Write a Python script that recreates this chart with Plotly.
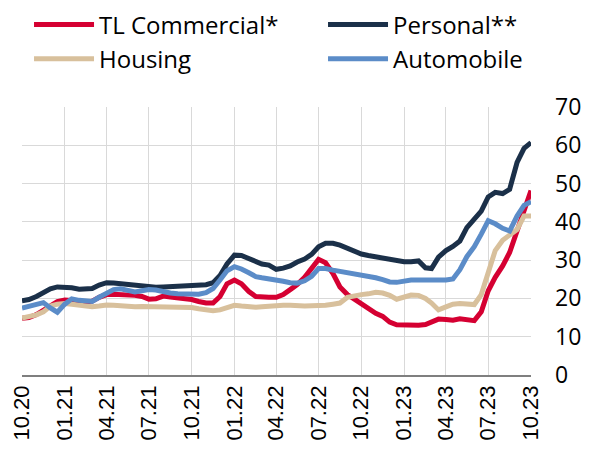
import plotly.graph_objects as go

# semi-monthly observation dates, Oct 2020 .. Oct 2023
dates = []
for y in range(2020, 2024):
    for m in range(1, 13):
        for d in (1, 16):
            s = f"{y}-{m:02d}-{d:02d}"
            if "2020-10-01" <= s <= "2023-10-01":
                dates.append(s)

tl_commercial = [14.8, 15.0, 15.8, 17.0, 18.3, 19.2, 19.6, 19.6, 19.3, 19.1, 19.3, 20.3,
                 21.0, 21.1, 21.1, 21.0, 20.8, 20.5, 19.8, 19.9, 20.6, 20.4, 20.2, 20.0,
                 19.7, 19.2, 18.8, 18.8, 20.5, 23.8, 24.8, 23.8, 21.8, 20.5, 20.3, 20.3,
                 20.3, 21.0, 22.3, 23.6, 25.5, 28.0, 30.2, 29.3, 26.5, 23.0, 21.0, 19.8,
                 18.5, 17.3, 16.1, 15.3, 13.8, 13.1, 13.0, 12.8, 13.0, 13.2, 14.0, 14.6,
                 14.5, 14.3, 14.7, 14.4, 14.2, 16.5, 22.0, 25.5, 28.5, 32.0, 37.5, 42.5,
                 48.2]

personal = [19.4, 19.7, 20.5, 21.5, 22.5, 23.0, 23.0, 22.8, 22.4, 22.5, 22.6, 23.5,
            24.1, 24.0, 23.8, 23.5, 23.3, 23.2, 23.0, 22.9, 23.0, 23.1, 23.3, 23.3,
            23.4, 23.5, 23.6, 24.1, 26.0, 29.0, 31.3, 31.2, 30.3, 29.4, 29.0, 28.7,
            27.6, 27.9, 28.5, 29.5, 30.3, 31.5, 33.5, 34.4, 34.4, 33.9, 33.0, 32.3,
            31.6, 31.2, 30.8, 30.5, 30.3, 29.8, 29.6, 29.6, 29.8, 28.0, 27.8, 30.8,
            32.5, 33.6, 35.0, 38.5, 40.6, 42.8, 46.5, 47.7, 47.4, 48.5, 55.5, 59.2,
            60.7]

housing = [14.9, 15.2, 15.7, 16.5, 18.0, 18.5, 18.7, 18.5, 18.2, 18.0, 17.8, 18.0,
           18.3, 18.2, 18.0, 17.9, 17.8, 17.9, 17.9, 17.9, 17.9, 17.9, 17.9, 17.8,
           17.6, 17.3, 17.0, 16.8, 17.0, 17.6, 18.2, 18.0, 17.8, 17.7, 17.8, 18.0,
           18.1, 18.2, 18.2, 18.0, 18.0, 18.1, 18.1, 18.2, 18.5, 18.8, 20.3, 20.8,
           21.0, 21.2, 21.6, 21.4, 20.8, 19.8, 20.3, 20.9, 20.8, 20.0, 18.8, 17.0,
           17.8, 18.5, 18.7, 18.5, 18.4, 21.0, 27.0, 32.5, 35.2, 36.5, 38.0, 41.5,
           41.5]

automobile = [17.5, 17.9, 18.3, 18.9, 17.5, 16.4, 18.5, 19.9, 19.5, 19.3, 19.2, 20.3,
              21.5, 22.3, 22.5, 22.0, 21.7, 22.0, 22.3, 22.2, 21.7, 21.4, 21.2, 21.1,
              21.1, 21.1, 21.5, 22.6, 24.8, 27.2, 28.3, 27.7, 26.7, 25.7, 25.4, 25.0,
              24.8, 24.5, 24.1, 24.0, 24.6, 25.8, 27.8, 27.8, 27.4, 27.1, 26.8, 26.5,
              26.2, 25.8, 25.4, 24.9, 24.3, 24.2, 24.6, 24.8, 24.8, 24.8, 24.7, 24.7,
              24.8, 25.1, 27.5, 30.9, 33.5, 36.8, 40.3, 39.5, 38.3, 37.6, 41.5, 44.3,
              45.3]

tick_vals = ["2020-10-01", "2021-01-01", "2021-04-01", "2021-07-01", "2021-10-01",
             "2022-01-01", "2022-04-01", "2022-07-01", "2022-10-01", "2023-01-01",
             "2023-04-01", "2023-07-01", "2023-10-01"]
tick_text = ["10.20", "01.21", "04.21", "07.21", "10.21", "01.22", "04.22", "07.22",
             "10.22", "01.23", "04.23", "07.23", "10.23"]

series = [
    ("TL Commercial*", tl_commercial, "#D50032", "legend"),
    ("Personal**", personal, "#1B3049", "legend2"),
    ("Housing", housing, "#D8C09C", "legend"),
    ("Automobile", automobile, "#5B8CC8", "legend2"),
]

fig = go.Figure()
for name, vals, color, lg in series:
    fig.add_trace(go.Scatter(x=dates, y=vals, name=name, mode="lines", legend=lg,
                             line=dict(color=color, width=5)))

legend_common = dict(orientation="v", yref="paper", xref="paper", xanchor="left",
                     yanchor="top", itemwidth=60, tracegroupgap=0,
                     font=dict(family="Open Sans", size=24, color="black"),
                     bgcolor="rgba(0,0,0,0)")

# page body has an 8px margin, so the figure is 581x450 offset by (8, 8)
fig.update_layout(
    width=581, height=450,
    margin=dict(l=14, r=58, t=99, b=83, autoexpand=False),
    paper_bgcolor="white", plot_bgcolor="white",
    font=dict(family="Open Sans", size=22, color="black"),
    showlegend=True,
    legend=dict(x=0.0138, y=1.39, **legend_common),
    legend2=dict(x=0.5914, y=1.39, **legend_common),
    xaxis=dict(type="date", range=["2020-10-01", "2023-10-01"], tickvals=tick_vals,
               ticktext=tick_text, tickangle=-90,
               tickfont=dict(family="Liberation Sans", size=22),
               showgrid=True, gridcolor="#D9D9D9", gridwidth=1,
               showline=True, linecolor="#7F7F7F", linewidth=1.5, ticks="", zeroline=False),
    yaxis=dict(side="right", range=[0, 70], dtick=10, showgrid=True, gridcolor="#D9D9D9",
               gridwidth=1, zeroline=False, ticks="", ticklabelstandoff=23,
               tickfont=dict(family="Open Sans", size=23)),
)
fig.write_html("out.html")
